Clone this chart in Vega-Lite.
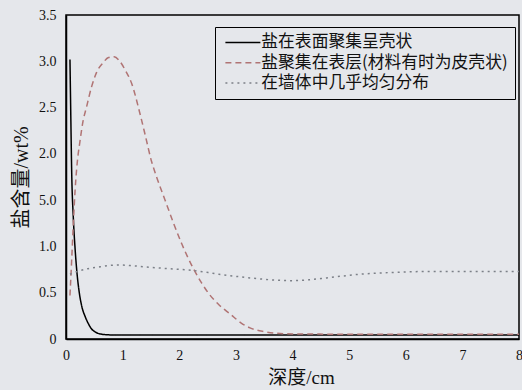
{
  "$schema": "https://vega.github.io/schema/vega-lite/v6.json",
  "width": 453,
  "height": 324,
  "autosize": {"type": "none"},
  "padding": {"left": 66, "top": 15, "right": 3, "bottom": 51},
  "background": "#e5e7eb",
  "config": {
    "view": {"stroke": "#000000", "strokeWidth": 1.5},
    "font": "Liberation Serif, Noto Sans CJK SC"
  },
  "data": {
    "values": [
      {"s": "盐在表面聚集呈壳状", "x": 0.07, "y": 3.02},
      {"s": "盐在表面聚集呈壳状", "x": 0.085, "y": 2.4},
      {"s": "盐在表面聚集呈壳状", "x": 0.1, "y": 1.82},
      {"s": "盐在表面聚集呈壳状", "x": 0.13, "y": 1.3},
      {"s": "盐在表面聚集呈壳状", "x": 0.16, "y": 0.98},
      {"s": "盐在表面聚集呈壳状", "x": 0.19, "y": 0.74},
      {"s": "盐在表面聚集呈壳状", "x": 0.23, "y": 0.52},
      {"s": "盐在表面聚集呈壳状", "x": 0.28, "y": 0.35},
      {"s": "盐在表面聚集呈壳状", "x": 0.34, "y": 0.24},
      {"s": "盐在表面聚集呈壳状", "x": 0.4, "y": 0.16},
      {"s": "盐在表面聚集呈壳状", "x": 0.45, "y": 0.11},
      {"s": "盐在表面聚集呈壳状", "x": 0.52, "y": 0.075},
      {"s": "盐在表面聚集呈壳状", "x": 0.6, "y": 0.055},
      {"s": "盐在表面聚集呈壳状", "x": 0.75, "y": 0.045},
      {"s": "盐在表面聚集呈壳状", "x": 1.0, "y": 0.042},
      {"s": "盐在表面聚集呈壳状", "x": 2.0, "y": 0.042},
      {"s": "盐在表面聚集呈壳状", "x": 4.0, "y": 0.042},
      {"s": "盐在表面聚集呈壳状", "x": 6.0, "y": 0.042},
      {"s": "盐在表面聚集呈壳状", "x": 8.0, "y": 0.042},

      {"s": "盐聚集在表层(材料有时为皮壳状)", "x": 0.07, "y": 0.47},
      {"s": "盐聚集在表层(材料有时为皮壳状)", "x": 0.1, "y": 0.85},
      {"s": "盐聚集在表层(材料有时为皮壳状)", "x": 0.13, "y": 1.25},
      {"s": "盐聚集在表层(材料有时为皮壳状)", "x": 0.16, "y": 1.6},
      {"s": "盐聚集在表层(材料有时为皮壳状)", "x": 0.19, "y": 1.85},
      {"s": "盐聚集在表层(材料有时为皮壳状)", "x": 0.25, "y": 2.15},
      {"s": "盐聚集在表层(材料有时为皮壳状)", "x": 0.3, "y": 2.35},
      {"s": "盐聚集在表层(材料有时为皮壳状)", "x": 0.36, "y": 2.5},
      {"s": "盐聚集在表层(材料有时为皮壳状)", "x": 0.45, "y": 2.72},
      {"s": "盐聚集在表层(材料有时为皮壳状)", "x": 0.54, "y": 2.88},
      {"s": "盐聚集在表层(材料有时为皮壳状)", "x": 0.65, "y": 2.98},
      {"s": "盐聚集在表层(材料有时为皮壳状)", "x": 0.75, "y": 3.04},
      {"s": "盐聚集在表层(材料有时为皮壳状)", "x": 0.85, "y": 3.05},
      {"s": "盐聚集在表层(材料有时为皮壳状)", "x": 0.95, "y": 3.0},
      {"s": "盐聚集在表层(材料有时为皮壳状)", "x": 1.05, "y": 2.9},
      {"s": "盐聚集在表层(材料有时为皮壳状)", "x": 1.16, "y": 2.76},
      {"s": "盐聚集在表层(材料有时为皮壳状)", "x": 1.3, "y": 2.45},
      {"s": "盐聚集在表层(材料有时为皮壳状)", "x": 1.4, "y": 2.2},
      {"s": "盐聚集在表层(材料有时为皮壳状)", "x": 1.51, "y": 1.92},
      {"s": "盐聚集在表层(材料有时为皮壳状)", "x": 1.6, "y": 1.75},
      {"s": "盐聚集在表层(材料有时为皮壳状)", "x": 1.75, "y": 1.5},
      {"s": "盐聚集在表层(材料有时为皮壳状)", "x": 1.9, "y": 1.25},
      {"s": "盐聚集在表层(材料有时为皮壳状)", "x": 2.05, "y": 1.02},
      {"s": "盐聚集在表层(材料有时为皮壳状)", "x": 2.25, "y": 0.76},
      {"s": "盐聚集在表层(材料有时为皮壳状)", "x": 2.4, "y": 0.6},
      {"s": "盐聚集在表层(材料有时为皮壳状)", "x": 2.51, "y": 0.5},
      {"s": "盐聚集在表层(材料有时为皮壳状)", "x": 2.7, "y": 0.37},
      {"s": "盐聚集在表层(材料有时为皮壳状)", "x": 2.9, "y": 0.27},
      {"s": "盐聚集在表层(材料有时为皮壳状)", "x": 3.1, "y": 0.17},
      {"s": "盐聚集在表层(材料有时为皮壳状)", "x": 3.25, "y": 0.12},
      {"s": "盐聚集在表层(材料有时为皮壳状)", "x": 3.5, "y": 0.08},
      {"s": "盐聚集在表层(材料有时为皮壳状)", "x": 3.72, "y": 0.062},
      {"s": "盐聚集在表层(材料有时为皮壳状)", "x": 4.0, "y": 0.055},
      {"s": "盐聚集在表层(材料有时为皮壳状)", "x": 5.0, "y": 0.052},
      {"s": "盐聚集在表层(材料有时为皮壳状)", "x": 6.0, "y": 0.052},
      {"s": "盐聚集在表层(材料有时为皮壳状)", "x": 7.0, "y": 0.052},
      {"s": "盐聚集在表层(材料有时为皮壳状)", "x": 8.0, "y": 0.052},

      {"s": "在墙体中几乎均匀分布", "x": 0.07, "y": 0.7},
      {"s": "在墙体中几乎均匀分布", "x": 0.2, "y": 0.73},
      {"s": "在墙体中几乎均匀分布", "x": 0.39, "y": 0.76},
      {"s": "在墙体中几乎均匀分布", "x": 0.6, "y": 0.78},
      {"s": "在墙体中几乎均匀分布", "x": 0.92, "y": 0.8},
      {"s": "在墙体中几乎均匀分布", "x": 1.2, "y": 0.79},
      {"s": "在墙体中几乎均匀分布", "x": 1.48, "y": 0.775},
      {"s": "在墙体中几乎均匀分布", "x": 1.8, "y": 0.76},
      {"s": "在墙体中几乎均匀分布", "x": 2.25, "y": 0.74},
      {"s": "在墙体中几乎均匀分布", "x": 2.7, "y": 0.7},
      {"s": "在墙体中几乎均匀分布", "x": 3.25, "y": 0.66},
      {"s": "在墙体中几乎均匀分布", "x": 3.6, "y": 0.64},
      {"s": "在墙体中几乎均匀分布", "x": 4.0, "y": 0.63},
      {"s": "在墙体中几乎均匀分布", "x": 4.3, "y": 0.64},
      {"s": "在墙体中几乎均匀分布", "x": 4.6, "y": 0.66},
      {"s": "在墙体中几乎均匀分布", "x": 5.2, "y": 0.7},
      {"s": "在墙体中几乎均匀分布", "x": 5.8, "y": 0.72},
      {"s": "在墙体中几乎均匀分布", "x": 6.5, "y": 0.73},
      {"s": "在墙体中几乎均匀分布", "x": 7.2, "y": 0.73},
      {"s": "在墙体中几乎均匀分布", "x": 8.0, "y": 0.73}
    ]
  },
  "mark": {"type": "line", "interpolate": "monotone", "strokeWidth": 1.5, "clip": true},
  "encoding": {
    "x": {
      "field": "x", "type": "quantitative",
      "scale": {"domain": [0, 8], "nice": false},
      "axis": {
        "title": "深度/cm",
        "values": [0, 1, 2, 3, 4, 5, 6, 7, 8],
        "format": "d",
        "grid": false, "ticks": false,
        "domainColor": "#000000", "domainWidth": 1.5,
        "labelFont": "Liberation Serif", "labelFontSize": 14, "labelColor": "#111111",
        "labelPadding": 9, "labelFlush": false,
        "titleFont": "Liberation Serif, Noto Sans CJK SC", "titleFontSize": 19, "titleFontWeight": "normal",
        "titleColor": "#111111", "titlePadding": 6, "titleX": 235
      }
    },
    "y": {
      "field": "y", "type": "quantitative",
      "scale": {"domain": [0, 3.5], "nice": false},
      "axis": {
        "title": "盐含量/wt%",
        "values": [0, 0.5, 1, 1.5, 2, 2.5, 3, 3.5],
        "labelExpr": "datum.value == 0 ? '0' : (datum.value == 1.5 ? '5.0' : format(datum.value, '.1f'))",
        "grid": false, "ticks": false,
        "domainColor": "#000000", "domainWidth": 1.5,
        "labelFont": "Liberation Serif", "labelFontSize": 14, "labelColor": "#111111",
        "labelPadding": 10, "labelFlush": false,
        "titleFont": "Liberation Serif, Noto Sans CJK SC", "titleFontSize": 20, "titleFontWeight": "normal",
        "titleColor": "#111111", "titlePadding": 7
      }
    },
    "color": {
      "field": "s", "type": "nominal",
      "scale": {
        "domain": ["盐在表面聚集呈壳状", "盐聚集在表层(材料有时为皮壳状)", "在墙体中几乎均匀分布"],
        "range": ["#000000", "#b07474", "#7c8088"]
      },
      "legend": {
        "title": null,
        "orient": "none", "legendX": 149, "legendY": 12,
        "strokeColor": "#000000", "fillColor": "#e5e7eb", "padding": 7,
        "symbolType": "M-3.5,0H3.5", "symbolSize": 100, "symbolStrokeWidth": 1.5,
        "symbolOffset": 12.5,
        "labelFont": "Noto Sans CJK SC", "labelFontSize": 16.8, "labelColor": "#111111",
        "labelOffset": 10, "rowPadding": 2.3, "labelLimit": 400
      }
    },
    "strokeDash": {
      "field": "s", "type": "nominal",
      "scale": {
        "domain": ["盐在表面聚集呈壳状", "盐聚集在表层(材料有时为皮壳状)", "在墙体中几乎均匀分布"],
        "range": [[1, 0], [6, 4], [2, 4]]
      },
      "legend": null
    }
  }
}
